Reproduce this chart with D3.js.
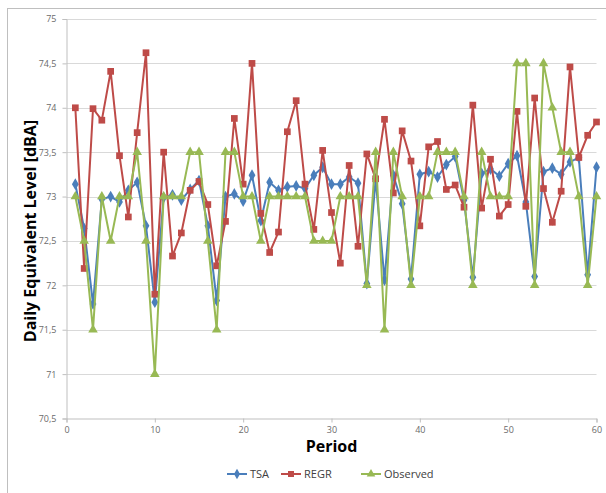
<html>
<head>
    <script src="https://d3js.org/d3.v7.min.js"></script>
    <style>
        body { margin: 0; background: white; }
        text { font-family: "Open Sans", Calibri, sans-serif; }
        .tick text { font-size: 9px; fill: #6b6b6b; }
    </style>
</head>
<body>
<script>
    // periods 1..60
    var periods = d3.range(1, 61);
    var tsa = [73.14, 72.64, 71.79, 72.97, 73.0, 72.94, 73.07, 73.16, 72.67, 71.81,
               72.99, 73.02, 72.96, 73.08, 73.18, 72.67, 71.83, 73.0, 73.03, 72.95,
               73.24, 72.73, 73.16, 73.07, 73.11, 73.12, 73.09, 73.24, 73.33, 73.14,
               73.14, 73.22, 73.15, 72.02, 73.2, 72.06, 73.24, 72.92, 72.07, 73.25,
               73.28, 73.22, 73.36, 73.45, 72.96, 72.09, 73.26, 73.31, 73.23, 73.37,
               73.46, 72.94, 72.1, 73.28, 73.32, 73.25, 73.39, 73.44, 72.12, 73.33];
    var regr = [74.0, 72.19, 73.99, 73.86, 74.41, 73.46, 72.77, 73.72, 74.62, 71.9,
                73.5, 72.33, 72.59, 73.07, 73.17, 72.91, 72.22, 72.72, 73.88, 73.14,
                74.5, 72.81, 72.37, 72.6, 73.73, 74.08, 73.14, 72.63, 73.52, 72.82,
                72.25, 73.35, 72.44, 73.48, 73.2, 73.87, 73.04, 73.74, 73.4, 72.67,
                73.56, 73.62, 73.08, 73.13, 72.88, 74.03, 72.87, 73.42, 72.78, 72.91,
                73.96, 72.89, 74.11, 73.09, 72.71, 73.06, 74.46, 73.44, 73.69, 73.84];
    var observed = [73.0, 72.5, 71.5, 73.0, 72.5, 73.0, 73.0, 73.5, 72.5, 71.0,
                    73.0, 73.0, 73.0, 73.5, 73.5, 72.5, 71.5, 73.5, 73.5, 73.0,
                    73.0, 72.5, 73.0, 73.0, 73.0, 73.0, 73.0, 72.5, 72.5, 72.5,
                    73.0, 73.0, 73.0, 72.0, 73.5, 71.5, 73.5, 73.0, 72.0, 73.0,
                    73.0, 73.5, 73.5, 73.5, 73.0, 72.0, 73.5, 73.0, 73.0, 73.0,
                    74.5, 74.5, 72.0, 74.5, 74.0, 73.5, 73.5, 73.0, 72.0, 73.0];
    var xTicks = [0, 10, 20, 30, 40, 50, 60];
    var yTicks = [70.5, 71, 71.5, 72, 72.5, 73, 73.5, 74, 74.5, 75];
    var seriesNames = ["TSA", "REGR", "Observed"];
    var seriesColors = ["#4a7ebb", "#be4b48", "#98b954"];
    var seriesData = [tsa, regr, observed];

    var width = 606, height = 493;
    var svg = d3.select("body").append("svg").attr("width", width).attr("height", height);

    // chart frame
    svg.append("rect").attr("x", 7.5).attr("y", 8.5).attr("width", 620).attr("height", 500)
        .attr("fill", "white").attr("stroke", "#bfbfbf");

    var x = d3.scaleLinear().domain([0, 60]).range([66.5, 596.5]);
    var y = d3.scaleLinear().domain([70.5, 75]).range([418.5, 19]);

    // gridlines
    svg.append("g").selectAll("line").data(yTicks.slice(1)).enter().append("line")
        .attr("x1", x(0)).attr("x2", x(60))
        .attr("y1", function(d) { return Math.round(y(d)) + 0.5; })
        .attr("y2", function(d) { return Math.round(y(d)) + 0.5; })
        .attr("stroke", "#d9d9d9");

    var fmt = function(d) { return String(d).replace(".", ","); };
    var yAxis = svg.append("g").attr("transform", "translate(" + x(0) + ",0)")
        .call(d3.axisLeft(y).tickValues(yTicks).tickFormat(fmt).tickSize(4).tickPadding(6));
    var xAxis = svg.append("g").attr("transform", "translate(0," + y(70.5) + ")")
        .call(d3.axisBottom(x).tickValues(xTicks).tickSize(4).tickPadding(4));
    [xAxis, yAxis].forEach(function(a) {
        a.select(".domain").attr("stroke", "#bfbfbf");
        a.selectAll(".tick line").attr("stroke", "#bfbfbf");
    });

    var line = d3.line().x(function(d, i) { return x(periods[i]); }).y(function(d) { return y(d); });
    var symbols = [d3.symbolDiamond, d3.symbolSquare, d3.symbolTriangle];
    var symSizes = [40, 45, 40];

    seriesData.forEach(function(data, s) {
        var g = svg.append("g");
        g.append("path").datum(data).attr("d", line).attr("fill", "none")
            .attr("stroke", seriesColors[s]).attr("stroke-width", 2);
        g.selectAll("path.m").data(data).enter().append("path").attr("class", "m")
            .attr("d", d3.symbol().type(symbols[s]).size(symSizes[s]))
            .attr("transform", function(d, i) { return "translate(" + x(periods[i]) + "," + y(d) + ")"; })
            .attr("fill", seriesColors[s]);
    });

    // axis titles
    svg.append("text").attr("x", x(30)).attr("y", 452).attr("text-anchor", "middle")
        .style("font-size", "16px").style("font-weight", "bold").text("Period");
    svg.append("text").attr("transform", "translate(36,231) rotate(-90)")
        .attr("text-anchor", "middle").style("font-size", "16px").style("font-weight", "bold")
        .text("Daily Equivalent Level [dBA]");

    // legend
    var legendX = [227, 281, 361];
    var legend = svg.append("g").selectAll("g").data(seriesNames).enter().append("g")
        .attr("transform", function(d, i) { return "translate(" + legendX[i] + ",474)"; });
    legend.append("line").attr("x1", 0).attr("x2", 20).attr("stroke-width", 2)
        .attr("stroke", function(d, i) { return seriesColors[i]; });
    legend.append("path")
        .attr("d", function(d, i) { return d3.symbol().type(symbols[i]).size(symSizes[i] * 0.8)(); })
        .attr("transform", "translate(10,0)")
        .attr("fill", function(d, i) { return seriesColors[i]; });
    legend.append("text").attr("x", 23).attr("y", 4).style("font-size", "11px").attr("fill", "#404040")
        .text(function(d) { return d; });
</script>
</body>
</html>
